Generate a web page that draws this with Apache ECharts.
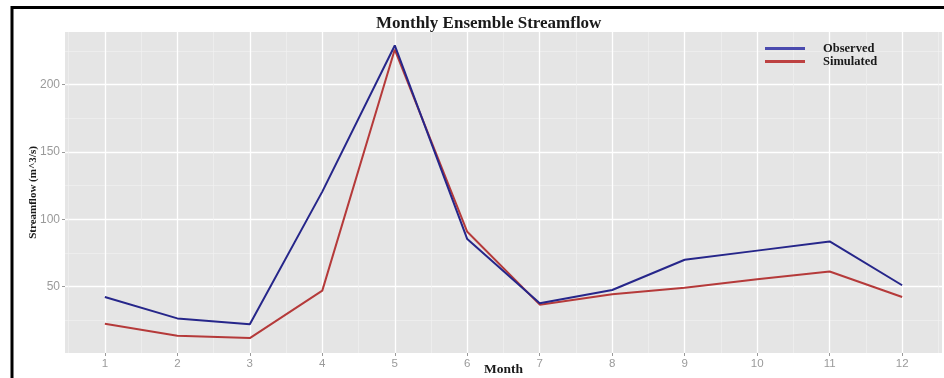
<!DOCTYPE html>
<html>
<head>
<meta charset="utf-8">
<title>Monthly Ensemble Streamflow</title>
<script src="https://cdn.jsdelivr.net/npm/echarts@6/dist/echarts.min.js"></script>
<style>
  html, body { margin: 0; padding: 0; background: #ffffff; }
  #chart { width: 944px; height: 378px; }
</style>
</head>
<body>
<div id="chart"></div>
<script>
// Months on the x axis
const months = [1, 2, 3, 4, 5, 6, 7, 8, 9, 10, 11, 12];
// Mean monthly streamflow (m^3/s)
const observed = [42.3, 26.4, 22.0, 120.5, 229.0, 85.3, 37.6, 47.5, 69.9, 76.7, 83.5, 51.0];
const simulated = [22.4, 13.5, 11.8, 47.0, 226.0, 90.7, 36.6, 44.3, 49.2, 55.5, 61.2, 42.3];
// Tick positions
const xMajorTicks = months;
const xMinorTicks = [0.5, 1.5, 2.5, 3.5, 4.5, 5.5, 6.5, 7.5, 8.5, 9.5, 10.5, 11.5, 12.5];
const yMajorTicks = [50, 100, 150, 200];
const yMinorTicks = [25, 75, 125, 175, 225];

const serif = '"Liberation Serif", "DejaVu Serif", serif';
const sans = '"Liberation Sans", Arial, sans-serif';

const chart = echarts.init(document.getElementById('chart'), null, { renderer: 'canvas' });

const hiddenAxisParts = {
  axisLine: { show: false },
  axisLabel: { show: false }
};

chart.setOption({
  animation: false,
  backgroundColor: '#ffffff',
  title: {
    text: 'Monthly Ensemble Streamflow',
    left: 371,
    top: 10,
    textStyle: { fontFamily: serif, fontWeight: 'bold', fontSize: 17, color: '#1a1a1a' }
  },
  legend: {
    orient: 'vertical',
    left: 760,
    top: 37,
    icon: 'rect',
    itemWidth: 40,
    itemHeight: 3,
    itemGap: 0,
    textStyle: { fontFamily: serif, fontWeight: 'bold', fontSize: 12.5, lineHeight: 13, color: '#1a1a1a', padding: [0, 0, 0, 13] },
    data: [
      { name: 'Observed', itemStyle: { color: '#4a4aae' } },
      { name: 'Simulated', itemStyle: { color: '#bd4141' } }
    ]
  },
  grid: {
    left: 65,
    right: 2,
    top: 32,
    bottom: 25,
    outerBoundsMode: 'none',
    show: true,
    backgroundColor: '#e5e5e5',
    borderWidth: 0
  },
  xAxis: [
    {
      type: 'value',
      min: 0.45,
      max: 12.55,
      name: 'Month',
      nameLocation: 'middle',
      nameGap: 10,
      nameMoveOverlap: false,
      nameTextStyle: { fontFamily: serif, fontWeight: 'bold', fontSize: 13.5, color: '#1a1a1a', verticalAlign: 'top' },
      axisLine: { show: false },
      axisTick: { show: true, length: 3, customValues: xMajorTicks, lineStyle: { color: '#9a9a9a' } },
      axisLabel: { customValues: xMajorTicks, fontFamily: sans, fontSize: 11.5, color: '#9a9a9a', margin: 5 },
      splitLine: { show: true, lineStyle: { color: '#ffffff', width: 1.3 } }
    },
    Object.assign({
      type: 'value',
      min: 0.45,
      max: 12.55,
      position: 'top',
      splitLine: { show: true, lineStyle: { color: '#f0f0f0', width: 0.7 } }
    }, hiddenAxisParts, { axisTick: { show: false, customValues: xMinorTicks } })
  ],
  yAxis: [
    {
      type: 'value',
      min: 0.7,
      max: 239,
      name: 'Streamflow (m^3/s)',
      nameLocation: 'middle',
      nameGap: 26,
      nameMoveOverlap: false,
      nameTextStyle: { fontFamily: serif, fontWeight: 'bold', fontSize: 11, color: '#1a1a1a' },
      axisLine: { show: false },
      axisTick: { show: true, length: 3, customValues: yMajorTicks, lineStyle: { color: '#9a9a9a' } },
      axisLabel: { customValues: yMajorTicks, fontFamily: sans, fontSize: 12, color: '#9a9a9a', margin: 5 },
      splitLine: { show: true, lineStyle: { color: '#ffffff', width: 1.3 } }
    },
    Object.assign({
      type: 'value',
      min: 0.7,
      max: 239,
      position: 'right',
      splitLine: { show: true, lineStyle: { color: '#f0f0f0', width: 0.7 } }
    }, hiddenAxisParts, { axisTick: { show: false, customValues: yMinorTicks } })
  ],
  series: [
    {
      name: 'Observed',
      type: 'line',
      symbol: 'none',
      xAxisIndex: 0,
      yAxisIndex: 0,
      lineStyle: { color: '#26268a', width: 2 },
      itemStyle: { color: '#26268a' },
      data: months.map((m, i) => [m, observed[i]]),
      z: 3
    },
    {
      name: 'Simulated',
      type: 'line',
      symbol: 'none',
      xAxisIndex: 0,
      yAxisIndex: 0,
      lineStyle: { color: '#b53a3a', width: 2 },
      itemStyle: { color: '#b53a3a' },
      data: months.map((m, i) => [m, simulated[i]]),
      z: 2
    }
  ],
  graphic: [
    {
      // framing rule along the top and left of the figure
      type: 'polyline',
      shape: { points: [[12, 400], [12, 7.5], [960, 7.5]] },
      style: { fill: null, stroke: '#000000', lineWidth: 3 },
      silent: true,
      z: 10
    }
  ]
});
</script>
</body>
</html>
